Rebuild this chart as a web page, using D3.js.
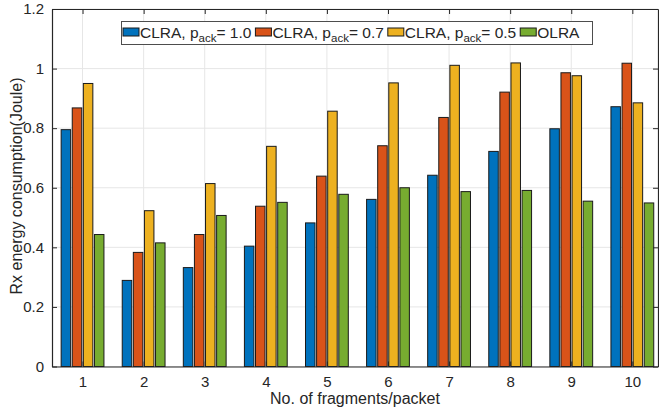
<!DOCTYPE html>
<html>
<head>
<meta charset="utf-8">
<script src="https://cdn.jsdelivr.net/npm/d3@7"></script>
<style>
  body { margin: 0; background: #fff; }
  svg text { font-family: "Liberation Sans", Arial, Helvetica, sans-serif; fill: #262626; }
</style>
</head>
<body>
<div id="main"></div>
<script>
// data
var fragments = [1, 2, 3, 4, 5, 6, 7, 8, 9, 10];
var clra10 = [0.795, 0.289, 0.332, 0.404, 0.482, 0.561, 0.642, 0.722, 0.798, 0.872];
var clra07 = [0.868, 0.383, 0.443, 0.538, 0.639, 0.741, 0.836, 0.921, 0.986, 1.018];
var clra05 = [0.950, 0.523, 0.614, 0.739, 0.857, 0.952, 1.011, 1.019, 0.976, 0.885];
var olra   = [0.443, 0.415, 0.507, 0.551, 0.578, 0.600, 0.587, 0.591, 0.555, 0.549];
var yTicks = [0, 0.2, 0.4, 0.6, 0.8, 1, 1.2];
var seriesNames = [
  {main: "CLRA, p", sub: "ack", rest: "= 1.0"},
  {main: "CLRA, p", sub: "ack", rest: "= 0.7"},
  {main: "CLRA, p", sub: "ack", rest: "= 0.5"},
  {main: "OLRA", sub: "", rest: ""}
];
var colors = ["#0072BD", "#D95319", "#EDB120", "#77AC30"];

var ctx = {w: 659, h: 413, left: 52, right: 658, top: 9, bottom: 366.5};

var svg = d3.select("#main").append("svg")
  .attr("width", ctx.w).attr("height", ctx.h);

var x = d3.scaleLinear().domain([0.5, 10.42]).range([ctx.left, ctx.right]);
var y = d3.scaleLinear().domain([0, 1.2]).range([ctx.bottom, ctx.top]);

var allSeries = [clra10, clra07, clra05, olra];
var barW = 9.5, pitch = 11.1;

// grid
var grid = svg.append("g");
grid.selectAll("line.gy").data(yTicks).enter().append("line")
  .attr("x1", ctx.left).attr("x2", ctx.right)
  .attr("y1", function(d){ return y(d); }).attr("y2", function(d){ return y(d); })
  .attr("stroke", "#e6e6e6").attr("stroke-width", 1);
grid.selectAll("line.gx").data(fragments).enter().append("line")
  .attr("y1", ctx.top).attr("y2", ctx.bottom)
  .attr("x1", function(d){ return x(d); }).attr("x2", function(d){ return x(d); })
  .attr("stroke", "#e6e6e6").attr("stroke-width", 1);

// bars
allSeries.forEach(function(vals, si){
  svg.append("g").selectAll("rect").data(vals).enter().append("rect")
    .attr("x", function(d, i){ return x(fragments[i]) + (si - 1.5) * pitch - barW / 2; })
    .attr("y", function(d){ return y(d); })
    .attr("width", barW)
    .attr("height", function(d){ return y(0) - y(d); })
    .attr("fill", colors[si])
    .attr("stroke", "#1a1a1a").attr("stroke-width", 1);
});

// axes (ticks pointing inward like matlab)
var axisCol = "#262626";
var gL = svg.append("g").attr("transform", "translate(" + ctx.left + ",0)")
  .call(d3.axisLeft(y).tickValues(yTicks).tickSizeInner(-5).tickSizeOuter(0).tickPadding(8)
        .tickFormat(function(d){ return d === 0 || d === 1 ? d3.format("d")(d) : d3.format(".1f")(d); }));
var gR = svg.append("g").attr("transform", "translate(" + ctx.right + ",0)")
  .call(d3.axisRight(y).tickValues(yTicks).tickSizeInner(-5).tickSizeOuter(0).tickFormat(""));
var gB = svg.append("g").attr("transform", "translate(0," + ctx.bottom + ")")
  .call(d3.axisBottom(x).tickValues(fragments).tickSizeInner(-5).tickSizeOuter(0).tickPadding(10)
        .tickFormat(d3.format("d")));
var gT = svg.append("g").attr("transform", "translate(0," + ctx.top + ")")
  .call(d3.axisTop(x).tickValues(fragments).tickSizeInner(-5).tickSizeOuter(0).tickFormat(""));
[gL, gR, gB, gT].forEach(function(g){
  g.select(".domain").attr("stroke", axisCol).attr("stroke-width", 1.2);
  g.selectAll(".tick line").attr("stroke", axisCol);
  g.selectAll("text").attr("font-size", 15).attr("fill", axisCol)
    .style("font-family", "'Liberation Sans', Arial, sans-serif");
});

// axis titles
svg.append("text")
  .attr("x", (ctx.left + ctx.right) / 2).attr("y", 404)
  .attr("text-anchor", "middle").attr("font-size", 16)
  .text("No. of fragments/packet");
svg.append("text")
  .attr("transform", "translate(22,186) rotate(-90)")
  .attr("text-anchor", "middle").attr("font-size", 16)
  .text("Rx energy consumption(Joule)");

// legend
var leg = svg.append("g");
var legBox = leg.append("rect")
  .attr("x", 121.5).attr("y", 21.5).attr("width", 471).attr("height", 23)
  .attr("fill", "#fff").attr("stroke", "#4d4d4d").attr("stroke-width", 1);
var lx = 123;
seriesNames.forEach(function(s, i){
  leg.append("rect")
    .attr("x", lx).attr("y", 28).attr("width", 16).attr("height", 8)
    .attr("fill", colors[i]).attr("stroke", "#1a1a1a").attr("stroke-width", 1);
  var t = leg.append("text").attr("x", lx + 17).attr("y", 38).attr("font-size", 15.5);
  t.append("tspan").text(s.main);
  if (s.sub) {
    t.append("tspan").attr("font-size", 11.5).attr("dy", 4).text(s.sub);
    t.append("tspan").attr("dy", -4).text(s.rest);
  }
  lx = lx + 17 + t.node().getComputedTextLength() + 4;
});
</script>
</body>
</html>
